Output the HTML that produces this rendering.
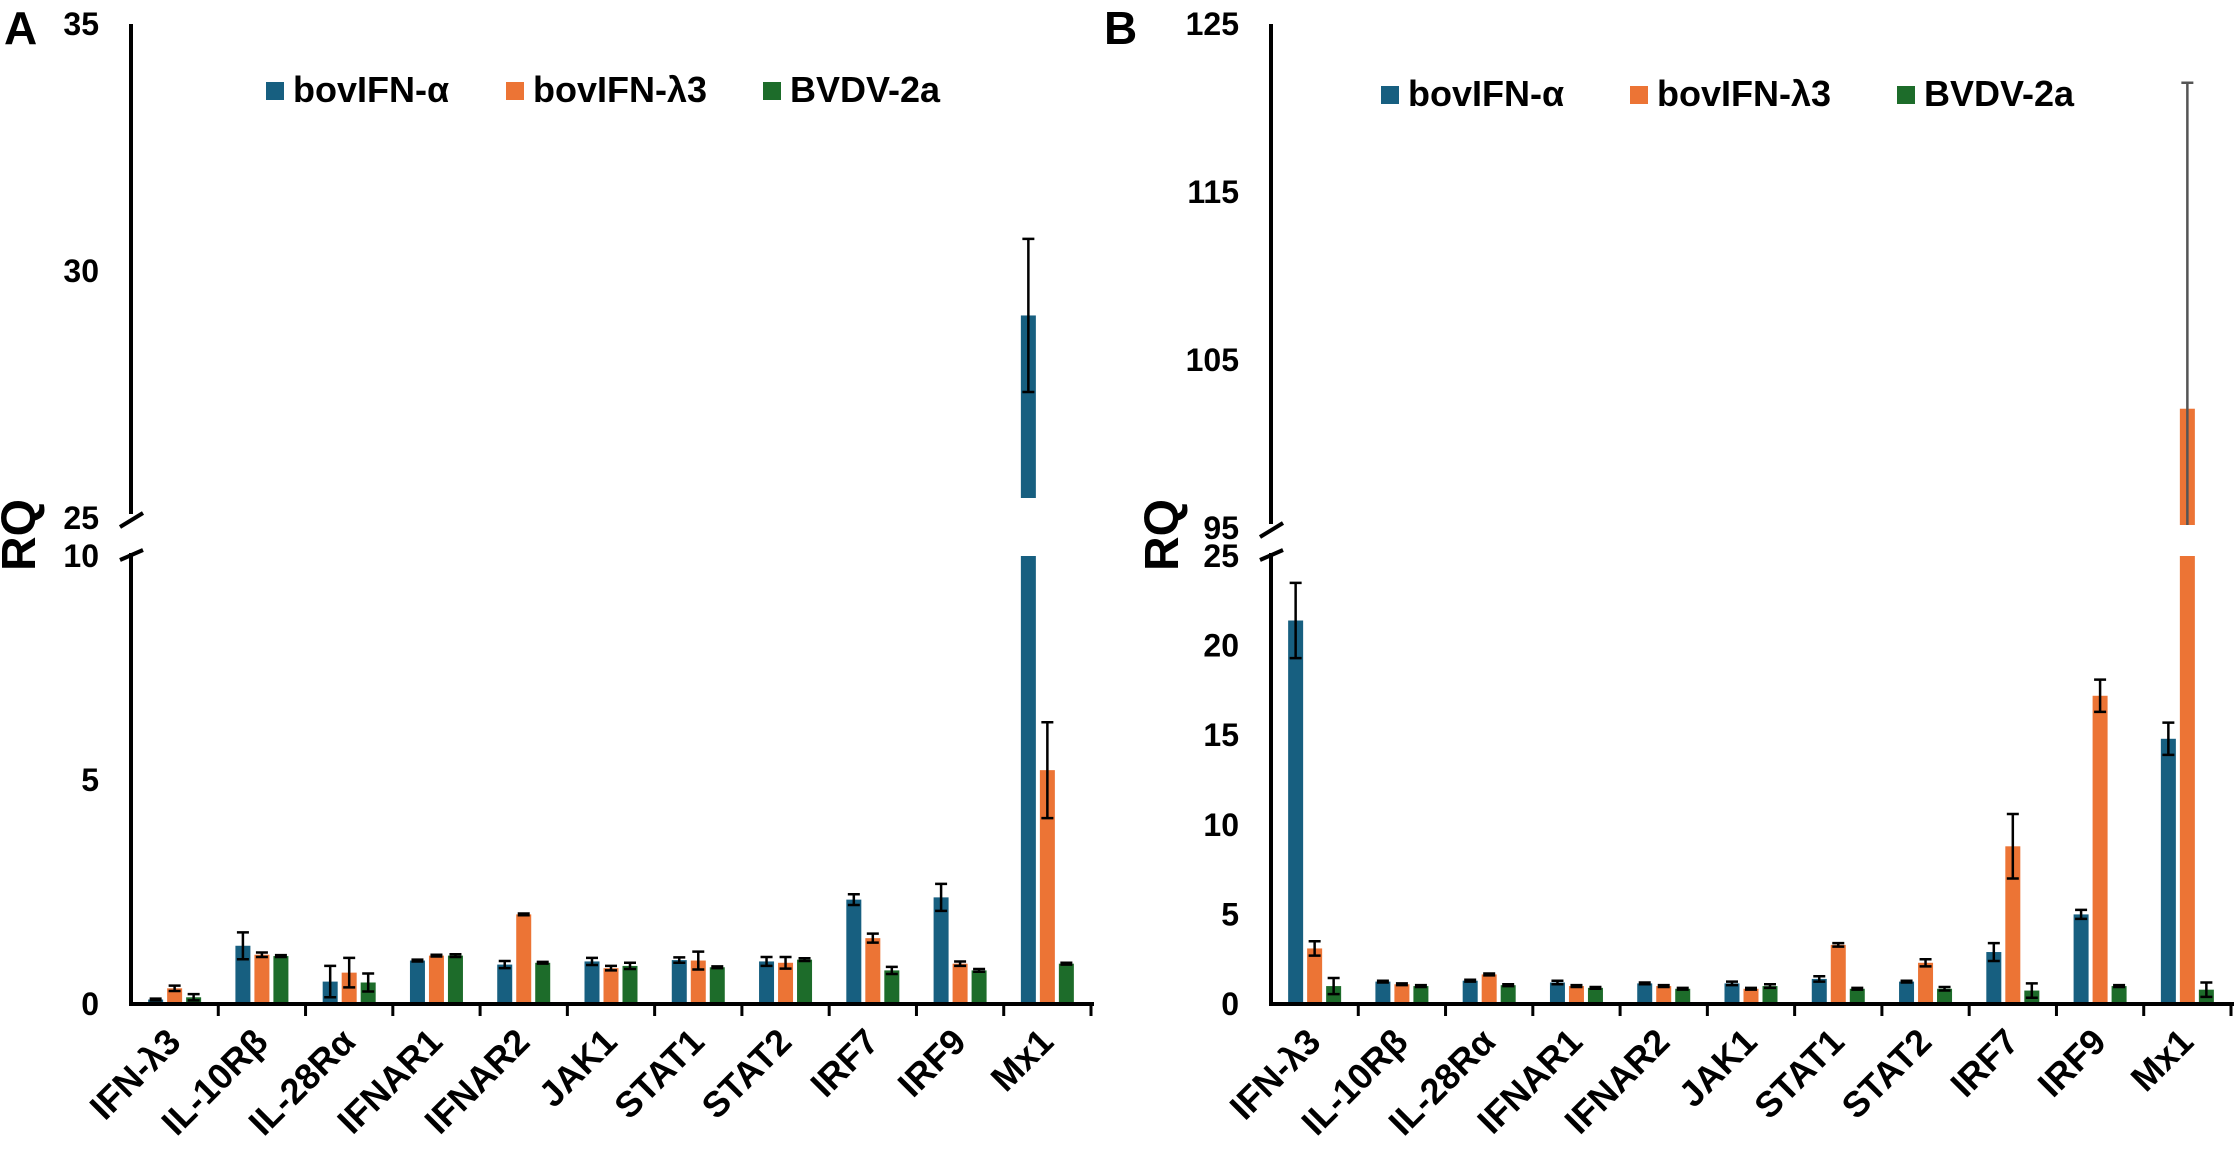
<!DOCTYPE html>
<html><head><meta charset="utf-8"><style>
body{margin:0;background:#fff}
svg{display:block}
text{font-family:"Liberation Sans",Arial,sans-serif;font-weight:bold;fill:#000}
</style></head><body>
<svg id="chart" width="2240" height="1152" viewBox="0 0 2240 1152" xmlns="http://www.w3.org/2000/svg"></svg>
<script>
const categories=["IFN-λ3","IL-10Rβ","IL-28Rα","IFNAR1","IFNAR2","JAK1","STAT1","STAT2","IRF7","IRF9","Mx1"];
const seriesNames=["bovIFN-α","bovIFN-λ3","BVDV-2a"];
const seriesColors=["#175f80","#ec7435","#1d6c2a"];
// Panel A
const aAlpha=[0.1,1.3,0.5,0.97,0.88,0.95,0.98,0.95,2.33,2.38,29.1];
const aAlphaErr=[0.02,0.3,0.35,0.02,0.08,0.08,0.06,0.1,0.12,0.3,1.55];
const aLambda=[0.35,1.1,0.7,1.08,2.0,0.8,0.97,0.92,1.47,0.9,5.22];
const aLambdaErr=[0.06,0.05,0.33,0.02,0.02,0.05,0.2,0.13,0.1,0.05,1.07];
const aBvdv=[0.15,1.07,0.48,1.08,0.92,0.85,0.82,0.99,0.75,0.75,0.9];
const aBvdvErr=[0.07,0.02,0.2,0.03,0.02,0.07,0.02,0.03,0.08,0.03,0.02];
const aLowerTicks=[0,5,10];
const aUpperTicks=[25,30,35];
// Panel B
const bAlpha=[21.4,1.25,1.3,1.2,1.15,1.15,1.4,1.25,2.9,5.0,14.8];
const bAlphaErr=[2.1,0.05,0.05,0.1,0.05,0.1,0.15,0.05,0.5,0.25,0.9];
const bLambda=[3.1,1.1,1.65,1.0,1.0,0.85,3.3,2.3,8.8,17.2,102.1];
const bLambdaErr=[0.4,0.05,0.05,0.05,0.05,0.05,0.1,0.2,1.8,0.9,19.4];
const bBvdv=[1.0,1.0,1.05,0.9,0.85,1.0,0.85,0.85,0.75,1.0,0.8];
const bBvdvErr=[0.45,0.05,0.05,0.05,0.05,0.1,0.05,0.1,0.4,0.05,0.4];
const bLowerTicks=[0,5,10,15,20,25];
const bUpperTicks=[95,105,115,125];

const NS="http://www.w3.org/2000/svg";
const svg=document.getElementById('chart');
function mk(tag,attrs,parent){const e=document.createElementNS(NS,tag);for(const k in attrs)e.setAttribute(k,attrs[k]);(parent||svg).appendChild(e);return e;}

function panel(cfg){
  const g=mk('g',{});
  
  
  const x0=cfg.x0,x1=cfg.x0+960,step=(x1-x0)/categories.length;
  const lowTop=556,lowBot=1004,upTop=24,upBot=cfg.upBot;
  const yl=v=>lowBot-(v-cfg.lowMin)/(cfg.lowMax-cfg.lowMin)*(lowBot-lowTop);
  const yu=v=>upBot-(v-cfg.upMin)/(cfg.upMax-cfg.upMin)*(upBot-upTop);
  const series=[cfg.s[0],cfg.s[1],cfg.s[2]],errs=[cfg.e[0],cfg.e[1],cfg.e[2]];
  const offs=[-19,0,19],bw=15;
  categories.forEach((c,i)=>{
    const cx=x0+step*(i+0.5);
    series.forEach((arr,si)=>{
      const v=arr[i],er=errs[si][i],bx=cx+offs[si];
      if(v<=cfg.lowMax){
        const r=mk('rect',{x:bx-bw/2,y:yl(v),width:bw,height:lowBot-yl(v),fill:seriesColors[si]},g);
        
        
        const t=yl(v+er),b=yl(Math.max(0,v-er));
        const eb=mk('path',{d:`M${bx} ${t}V${b}M${bx-6} ${t}H${bx+6}M${bx-6} ${b}H${bx+6}`,stroke:'#000','stroke-width':2.5,fill:'none'},g);
        
        
      } else {
        const r=mk('rect',{x:bx-bw/2,y:lowTop,width:bw,height:lowBot-lowTop,fill:seriesColors[si]},g);
        
        
        const bb=upBot-20*cfg.gapScale;
        const r2=mk('rect',{x:bx-bw/2,y:yu(v),width:bw,height:bb-yu(v),fill:seriesColors[si]},g);
        
        
        const t=yu(v+er),b=Math.min(bb,yu(v-er));
        const col=cfg.grayErr?'#555':'#000';
        let d=`M${bx} ${t}V${b}M${bx-6} ${t}H${bx+6}`;
        if(yu(v-er)<bb)d+=`M${bx-6} ${b}H${bx+6}`;
        const eb=mk('path',{d:d,stroke:col,'stroke-width':2.5,fill:'none'},g);
        
        
      }
    });
    const tk=mk('line',{x1:x0+step*(i+1),x2:x0+step*(i+1),y1:lowBot,y2:lowBot+12,stroke:'#000','stroke-width':3},g);
    
    
    const lx=cx+8,ly=1044;
    const tl=mk('text',{x:lx,y:ly,'font-size':36,'text-anchor':'end',transform:`rotate(-45 ${lx} ${ly})`},g);
    tl.textContent=c;
    
    
  });
  const ax=mk('path',{d:`M${x0} ${upTop}V${upBot-4}M${x0} ${lowTop-3}V${lowBot}H${x1+3}`,stroke:'#000','stroke-width':4,fill:'none'},g);
  
  
  const br=mk('path',{d:`M${x0-11} ${upBot+9}L${x0+12} ${upBot-5}M${x0-11} ${lowTop+4}L${x0+12} ${lowTop-6}`,stroke:'#000','stroke-width':4,fill:'none'},g);
  
  
  cfg.lowTicks.forEach(v=>{
    const t=mk('text',{x:x0-32,y:yl(v)+11,'font-size':32,'text-anchor':'end'},g);t.textContent=v;
    
    
  });
  cfg.upTicks.forEach(v=>{
    const t=mk('text',{x:x0-32,y:yu(v)+11,'font-size':32,'text-anchor':'end'},g);t.textContent=v;
    
    
  });
  const rq=mk('text',{x:cfg.rqx,y:535,'font-size':48,'text-anchor':'middle',transform:`rotate(-90 ${cfg.rqx} 535)`},g);
  rq.textContent='RQ';
  
  
  const pl=mk('text',{x:cfg.lx,y:44,'font-size':46},g);
  pl.textContent=cfg.label;
  
  
  seriesNames.forEach((n,si)=>{
    const lg=mk('g',{},g);
    
    
    mk('rect',{x:cfg.legX[si],y:cfg.legY-18,width:18,height:18,fill:seriesColors[si]},lg);
    const t=mk('text',{x:cfg.legX[si]+27,y:cfg.legY+2,'font-size':36},lg);t.textContent=n;
  });
}
panel({name:'panel-a',label:'A',lx:4,x0:131,upBot:518,lowMin:0,lowMax:10,upMin:25,upMax:35,
  s:[aAlpha,aLambda,aBvdv],e:[aAlphaErr,aLambdaErr,aBvdvErr],lowTicks:aLowerTicks,upTicks:aUpperTicks,
  rqx:35,legX:[266,506,763],legY:100,gapScale:1,grayErr:false});
panel({name:'panel-b',label:'B',lx:1104,x0:1271,upBot:528,lowMin:0,lowMax:25,upMin:95,upMax:125,
  s:[bAlpha,bLambda,bBvdv],e:[bAlphaErr,bLambdaErr,bBvdvErr],lowTicks:bLowerTicks,upTicks:bUpperTicks,
  rqx:1178,legX:[1381,1630,1897],legY:104,gapScale:0.15,grayErr:true});
</script>
</body></html>
